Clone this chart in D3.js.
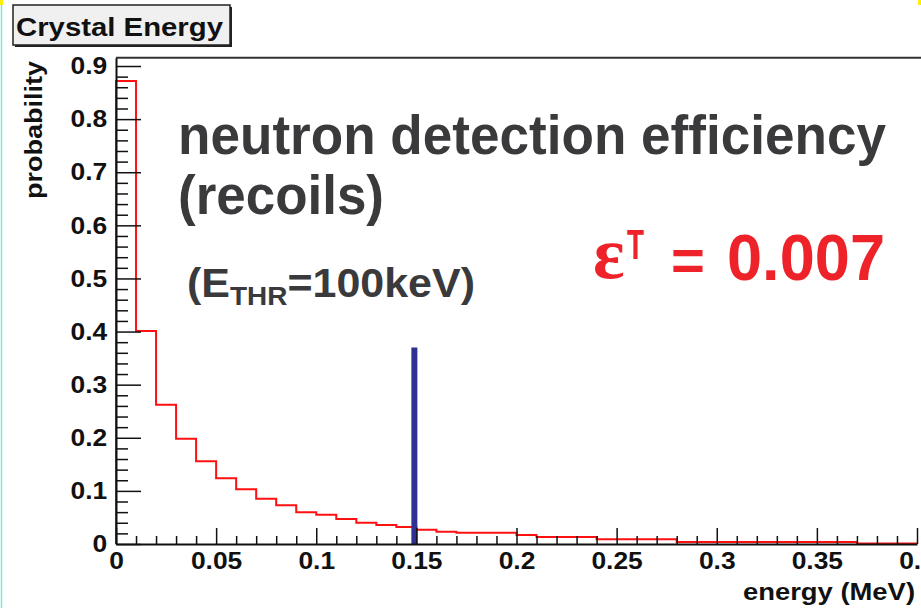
<!DOCTYPE html>
<html>
<head>
<meta charset="utf-8">
<script src="https://cdn.jsdelivr.net/npm/d3@7"></script>
<style>
  body { margin: 0; background: #fff; }
  svg { display: block; }
  text { font-family: "Liberation Sans", Arial, Helvetica, sans-serif; font-weight: bold; }
</style>
</head>
<body>
<svg id="chart" width="921" height="608"></svg>
<script>
// --- Data ---
const binWidth = 0.01;
// probability per 0.01 MeV bin, from 0 to 0.4 MeV
const probability = [
  0.872, 0.401, 0.262, 0.198, 0.156, 0.124, 0.103, 0.085, 0.073, 0.060,
  0.055, 0.047, 0.040, 0.036, 0.032, 0.027, 0.023, 0.021, 0.021, 0.021,
  0.017, 0.013, 0.013, 0.013, 0.009, 0.009, 0.009, 0.009, 0.004, 0.004,
  0.004, 0.004, 0.004, 0.004, 0.004, 0.004, 0.004, 0.001, 0.001, 0.001
];
const xMajorTicks = [0, 0.05, 0.1, 0.15, 0.2, 0.25, 0.3, 0.35, 0.4];
const xTickLabels = ["0", "0.05", "0.1", "0.15", "0.2", "0.25", "0.3", "0.35", "0.4"];
const yMajorTicks = [0, 0.1, 0.2, 0.3, 0.4, 0.5, 0.6, 0.7, 0.8, 0.9];
const yTickLabels = ["0", "0.1", "0.2", "0.3", "0.4", "0.5", "0.6", "0.7", "0.8", "0.9"];
const thresholdEnergy = 0.149;   // blue marker
const thresholdHeight = 0.37;

const svg = d3.select("#chart");

// --- Scales ---
const xMax = 0.4, yMax = d3.max(probability) * 1.05;
const x = d3.scaleLinear().domain([0, xMax]).range([116, 917]);
const y = d3.scaleLinear().domain([0, yMax]).range([544, 544 - 531.1 * yMax]);

const xMinor = d3.range(0, 41).map(i => i * binWidth).filter(v => !xMajorTicks.some(m => Math.abs(m - v) < 1e-9));
const yMinor = d3.range(0, 46).map(i => i * 0.02).filter(v => v <= yMax && !yMajorTicks.some(m => Math.abs(m - v) < 1e-9));

// thin edge artefacts of the original capture
svg.append("line").attr("x1", 1.5).attr("x2", 1.5).attr("y1", 0).attr("y2", 608)
  .attr("stroke", "#7fe6d8").attr("stroke-width", 1.5);
svg.append("rect").attr("x", 0).attr("y", 0).attr("width", 3).attr("height", 5).attr("fill", "#ffee00");
svg.append("rect").attr("x", 918).attr("y", 0).attr("width", 3).attr("height", 5).attr("fill", "#ffee00");

// --- Frame top line ---
svg.append("line")
  .attr("x1", x(0)).attr("x2", 921)
  .attr("y1", y(yMax)).attr("y2", y(yMax))
  .attr("stroke", "#333").attr("stroke-width", 2);

// --- Histogram (red step line) ---
const pts = [[x(0), y(0)]];
probability.forEach((v, i) => {
  pts.push([x(i * binWidth), y(v)]);
  pts.push([x((i + 1) * binWidth), y(v)]);
});
pts.push([x(xMax), y(0)]);
svg.append("path")
  .attr("d", d3.line()(pts))
  .attr("fill", "none")
  .attr("stroke", "#ff1010")
  .attr("stroke-width", 2);

// --- Threshold marker ---
svg.append("line")
  .attr("x1", x(thresholdEnergy)).attr("x2", x(thresholdEnergy))
  .attr("y1", y(0)).attr("y2", y(thresholdHeight))
  .attr("stroke", "#2e3192").attr("stroke-width", 6);

// --- Axes ---
const yAxisG = svg.append("g").attr("transform", `translate(${x(0)},0)`);
yAxisG.append("g")
  .call(d3.axisLeft(y).tickValues(yMinor).tickSizeInner(-12).tickSizeOuter(0).tickFormat(""))
  .call(g => g.select(".domain").remove());
yAxisG.append("g")
  .call(d3.axisLeft(y).tickValues(yMajorTicks).tickSizeInner(-25).tickSizeOuter(0).tickPadding(8)
    .tickFormat((d, i) => yTickLabels[i]));

const xAxisG = svg.append("g").attr("transform", `translate(0,${y(0)})`);
xAxisG.append("g")
  .call(d3.axisBottom(x).tickValues(xMinor).tickSizeInner(-8).tickSizeOuter(0).tickFormat(""))
  .call(g => g.select(".domain").remove());
xAxisG.append("g")
  .call(d3.axisBottom(x).tickValues(xMajorTicks).tickSizeInner(-16).tickSizeOuter(0).tickPadding(8)
    .tickFormat((d, i) => xTickLabels[i]));

svg.selectAll(".domain").attr("stroke", "#111").attr("stroke-width", 2);
svg.selectAll(".tick line").attr("stroke", "#111").attr("stroke-width", 1.5);
svg.selectAll(".tick text")
  .attr("fill", "#111")
  .style("font-size", "24px")
  .style("font-family", "'Liberation Sans', Arial, sans-serif")
  .style("font-weight", "bold")
  .attr("transform", "scale(1.1,1)");

// axis titles
svg.append("text")
  .attr("x", 915).attr("y", 600)
  .attr("text-anchor", "end")
  .attr("fill", "#111")
  .style("font-size", "24px")
  .attr("textLength", 172).attr("lengthAdjust", "spacingAndGlyphs")
  .text("energy (MeV)");

svg.append("text")
  .attr("transform", "translate(42,61) rotate(-90)")
  .attr("text-anchor", "end")
  .attr("fill", "#111")
  .style("font-size", "24px")
  .attr("textLength", 138).attr("lengthAdjust", "spacingAndGlyphs")
  .text("probability");

// --- Title box ---
svg.append("rect").attr("x", 15).attr("y", 7).attr("width", 217).attr("height", 40).attr("fill", "#222");
svg.append("rect").attr("x", 13).attr("y", 5).attr("width", 217).attr("height", 40)
  .attr("fill", "#f0f0f0").attr("stroke", "#222").attr("stroke-width", 1.5);
svg.append("text")
  .attr("x", 16).attr("y", 36)
  .attr("fill", "#111")
  .style("font-size", "26px")
  .attr("textLength", 207).attr("lengthAdjust", "spacingAndGlyphs")
  .text("Crystal Energy");

// --- Annotations ---
const grey = "#3a3a3c";
svg.append("text")
  .attr("x", 178).attr("y", 154)
  .attr("fill", grey)
  .style("font-size", "55px")
  .attr("textLength", 708).attr("lengthAdjust", "spacingAndGlyphs")
  .text("neutron detection efficiency");
svg.append("text")
  .attr("x", 178).attr("y", 214)
  .attr("fill", grey)
  .style("font-size", "55px")
  .attr("textLength", 206).attr("lengthAdjust", "spacingAndGlyphs")
  .text("(recoils)");

const thr = svg.append("text")
  .attr("x", 187).attr("y", 297)
  .attr("fill", grey)
  .style("font-size", "40px")
  .attr("textLength", 288).attr("lengthAdjust", "spacingAndGlyphs");
thr.append("tspan").text("(E");
thr.append("tspan").attr("dy", 8).style("font-size", "26px").text("THR");
thr.append("tspan").attr("dy", -8).text("=100keV)");

const red = "#ee2229";
svg.append("text")
  .attr("x", 593).attr("y", 278)
  .attr("fill", red)
  .style("font-family", "'Liberation Serif', 'DejaVu Serif', serif")
  .style("font-size", "74px")
  .text("ε");
svg.append("text")
  .attr("x", 627).attr("y", 259)
  .attr("fill", red)
  .style("font-size", "42px")
  .attr("textLength", 17).attr("lengthAdjust", "spacingAndGlyphs")
  .text("T");
svg.append("text")
  .attr("x", 671).attr("y", 280)
  .attr("fill", red)
  .style("font-size", "58px")
  .text("=");
svg.append("text")
  .attr("x", 727).attr("y", 280)
  .attr("fill", red)
  .style("font-size", "65px")
  .attr("textLength", 158).attr("lengthAdjust", "spacingAndGlyphs")
  .text("0.007");
</script>
</body>
</html>
